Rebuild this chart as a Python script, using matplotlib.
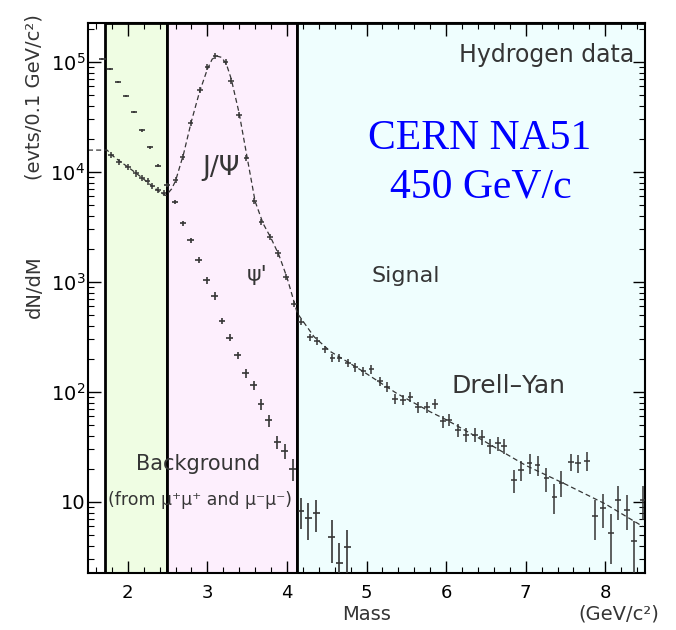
import numpy as np
import matplotlib
matplotlib.use("Agg")
import matplotlib.pyplot as plt
from matplotlib.ticker import FixedLocator, MultipleLocator, LogLocator, NullFormatter

# mass regions (GeV/c^2)
region_edges = [1.71, 2.49, 4.12, 8.5]
region_colors = ["#effde3", "#fdeffd", "#effefe"]

# opposite-sign pairs (signal), events / 0.1 GeV
sig_mass = [1.79, 1.89, 2.00, 2.10, 2.18, 2.25, 2.31, 2.38, 2.45, 2.60,
            2.69, 2.79, 2.91, 3.00, 3.10, 3.23, 3.30, 3.40, 3.49, 3.59,
            3.68, 3.79, 3.89, 3.99, 4.09, 4.18, 4.29, 4.38, 4.48, 4.57,
            4.66, 4.77, 4.86, 4.96, 5.06, 5.17, 5.26, 5.36, 5.46, 5.55,
            5.65, 5.76, 5.86, 5.96, 6.04, 6.15, 6.25, 6.36, 6.45, 6.55,
            6.65, 6.73, 6.85, 6.94, 7.05, 7.15, 7.26, 7.36, 7.45, 7.57,
            7.66, 7.77, 7.87, 7.97, 8.07, 8.16, 8.27, 8.36, 8.47]
sig_val = [14300, 12400, 11200, 9700, 8900, 8200, 7500, 6900, 6400, 8400,
           13700, 27700, 56000, 90000, 113000, 100000, 67000, 33000, 13500, 5500,
           3500, 2550, 1820, 1120, 630, 430, 314, 293, 244, 204,
           205, 185, 168, 155, 161, 126, 111, 86, 85, 90,
           73, 73, 78, 54, 56, 45, 41, 41, 39, 32,
           34, 32, 15.8, 19.5, 22.5, 21.7, 16.4, 11.2, 15.0, 23.0,
           22.5, 23.7, 7.5, 8.8, 5.2, 10.4, 8.5, 4.4, 10.4]
sig_err = [900, 800, 700, 620, 570, 520, 480, 440, 410, 540,
           880, 1800, 3600, 5800, 7200, 6400, 4300, 2100, 860, 350,
           225, 165, 118, 72, 42, 28, 25, 24, 20, 18,
           18, 16, 15, 14, 14, 12, 11, 9, 9, 9,
           8, 8, 8, 7, 7, 6, 6, 6, 6, 5,
           5, 5, 3.7, 4.0, 4.5, 4.5, 4.0, 3.5, 4.0, 4.0,
           4.0, 4.5, 3.0, 3.0, 2.5, 3.5, 3.0, 2.3, 3.5]

# like-sign pairs (background)
bkg_mass = [1.68, 1.78, 1.88, 1.98, 2.08, 2.18, 2.28, 2.38, 2.49, 2.59,
            2.69, 2.79, 2.89, 2.99, 3.09, 3.18, 3.28, 3.38, 3.48, 3.58,
            3.67, 3.77, 3.88, 3.97, 4.07, 4.18, 4.27, 4.37, 4.56, 4.66, 4.76]
bkg_val = [106000, 86000, 66000, 49000, 35000, 24000, 16800, 11400, 7600, 5300,
           3400, 2400, 1590, 1040, 746, 442, 312, 216, 148, 116,
           77, 55, 35, 29, 20, 8.3, 7.1, 7.9, 4.8, 2.8, 3.9]
bkg_err = [2000, 1700, 1400, 1100, 900, 700, 500, 400, 300, 220,
           170, 130, 100, 75, 60, 30, 22, 17, 13, 11,
           9, 7, 4.5, 4.3, 4.6, 2.6, 2.6, 2.6, 2.0, 1.4, 1.7]

# fitted curve (J/psi + psi' + Drell-Yan)
fit_mass = [1.50, 1.74, 1.80, 1.90, 2.00, 2.10, 2.20, 2.30, 2.40, 2.48,
            2.55, 2.60, 2.70, 2.80, 2.90, 3.00, 3.06, 3.12, 3.18, 3.24,
            3.30, 3.40, 3.50, 3.60, 3.70, 3.80, 3.90, 4.00, 4.10, 4.13,
            4.34, 4.55, 4.76, 4.96, 5.38, 5.80, 6.00, 6.50, 7.00, 7.50,
            8.00, 8.47]
fit_val = [15800, 15800, 14200, 12500, 11100, 9800, 8600, 7500, 6600, 6100,
           7000, 8300, 14500, 29000, 53000, 86000, 106000, 113000, 110000, 95000,
           70000, 34000, 13500, 5400, 3400, 2500, 1750, 1100, 620, 520,
           318, 232, 188, 153, 97, 66, 56, 35, 21.5, 14.5,
           9.6, 6.0]

ytick_vals = [10, 100, 1000, 10000, 100000]
ytick_labels = ["10", "$10^2$", "$10^3$", "$10^4$", "$10^5$"]
xtick_vals = [2, 3, 4, 5, 6, 7, 8]
xtick_labels = ["2", "3", "4", "5", "6", "7", "8"]

ink = "#353535"

fig = plt.figure(figsize=(6.76, 6.30), dpi=100)
ax = fig.add_axes([0.1302, 0.0905, 0.824, 0.873])
ax.set_yscale("log")
ax.set_xlim(1.5, 8.5)
ax.set_ylim(2.26, 2.26e5)

for i in range(3):
    ax.axvspan(region_edges[i], region_edges[i + 1], facecolor=region_colors[i],
               edgecolor="black", linewidth=2, zorder=0)

ax.plot(fit_mass, fit_val, color=ink, lw=0.9, ls=(0, (4, 2.5)), zorder=2)
ax.errorbar(sig_mass, sig_val, yerr=sig_err, xerr=0.035, fmt="none",
            ecolor=ink, elinewidth=1.1, capsize=0, zorder=3)
ax.errorbar(bkg_mass, bkg_val, yerr=bkg_err, xerr=0.04, fmt="none",
            ecolor=ink, elinewidth=1.2, capsize=0, zorder=3)

ax.yaxis.set_major_locator(FixedLocator(ytick_vals))
ax.set_yticklabels(ytick_labels)
ax.yaxis.set_minor_locator(LogLocator(base=10, subs=np.arange(2, 10)))
ax.yaxis.set_minor_formatter(NullFormatter())
ax.set_xticks(xtick_vals)
ax.set_xticklabels(xtick_labels)
ax.xaxis.set_minor_locator(MultipleLocator(0.2))
ax.tick_params(which="both", direction="in", top=True, right=True, colors="black")
ax.tick_params(which="major", length=9, width=1)
ax.tick_params(which="minor", length=4, width=0.8)
ax.tick_params(axis="y", labelsize=14, pad=2)
ax.tick_params(axis="x", labelsize=13, pad=8)
for s in ax.spines.values():
    s.set_linewidth(1.5)

txt = dict(color=ink, family="DejaVu Sans")
ax.text(8.37, 1.16e5, "Hydrogen data", ha="right", va="center", fontsize=17, **txt)
ax.text(5.49, 1.13e3, "Signal", ha="center", va="center", fontsize=16, **txt)
ax.text(6.78, 113, "Drell\u2013Yan", ha="center", va="center", fontsize=18, **txt)
ax.text(3.17, 1.09e4, "J/\u03a8", ha="center", va="center", fontsize=19, **txt)
ax.text(3.63, 1.16e3, "\u03c8'", ha="center", va="center", fontsize=16, **txt)
ax.text(2.88, 22, "Background", ha="center", va="center", fontsize=15, **txt)
ax.text(2.91, 10.4, "(from \u03bc\u207a\u03bc\u207a and \u03bc\u207b\u03bc\u207b)",
        ha="center", va="center", fontsize=12.5, **txt)

blue = dict(color="#0000ff", family="Liberation Serif", fontsize=30,
            ha="center", va="center")
ax.text(6.42, 2.0e4, "CERN NA51", **blue)
ax.text(6.43, 7.3e3, "450 GeV/c", **blue)

fig.text(34 / 676, 1 - 97 / 630, "(evts/0.1 GeV/c\u00b2)", rotation=90,
         ha="center", va="center", fontsize=14, **txt)
fig.text(34 / 676, 1 - 287 / 630, "dN/dM", rotation=90,
         ha="center", va="center", fontsize=14, **txt)
fig.text(367 / 676, 1 - 614 / 630, "Mass", ha="center", va="center", fontsize=14, **txt)
fig.text(619 / 676, 1 - 614 / 630, "(GeV/c\u00b2)", ha="center", va="center", fontsize=14, **txt)

fig.savefig("out.png", dpi=100)
